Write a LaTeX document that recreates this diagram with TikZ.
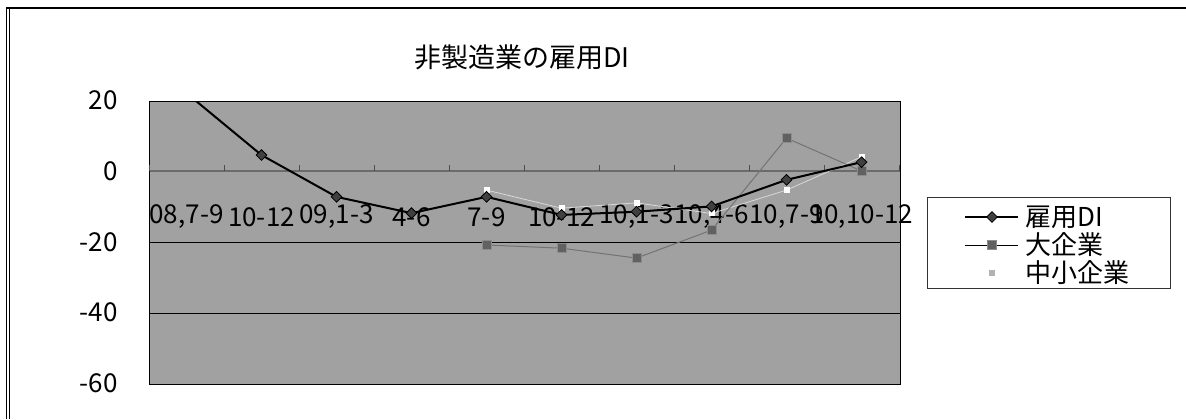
\documentclass[tikz,border=0pt]{standalone}
\usepackage{fontspec}
\setmainfont{Noto Sans CJK JP}
\usetikzlibrary{shapes.geometric}
\begin{document}
\begin{tikzpicture}[x=0.5pt,y=-0.5pt,
	lab/.style={font=\fontsize{13}{13}\selectfont, inner sep=0pt},
	emp/.style={black, line width=1pt},
	big/.style={black!55, line width=0.5pt},
	small/.style={white!85!black, line width=0.4pt},
	dia/.style={diamond, draw=black, fill=black!75, inner sep=0pt, minimum size=5.5pt},
	sq/.style={rectangle, draw=black!45, fill=black!62, inner sep=0pt, minimum size=4.5pt},
	wsq/.style={rectangle, fill=white, inner sep=0pt, minimum size=3pt}]
	\useasboundingbox (0,0) rectangle (1186,419);
	% frame
	\draw[line width=0.8pt] (6,8) -- (1186,8);
	\draw[line width=0.5pt] (6,8) -- (6,419);
	\draw[line width=0.4pt] (9,8) -- (9,419);
	% title
	\node[lab, font=\fontsize{13.5}{13.5}\selectfont] (title) at (522,57) {非製造業の雇用DI};
	% plot area
	\fill[black!37] (149,101) rectangle (900,384);
	\draw[line width=0.5pt] (149,242) -- (900,242);
	\draw[line width=0.5pt] (149,313) -- (900,313);
	\draw[black!58, line width=1.3pt] (149,171) -- (900,171);
	\draw[line width=0.5pt] (149,101) rectangle (900,384);
	\foreach \i in {0,...,10}
		\draw[black!70, line width=0.4pt] ({149+75*\i},165) -- ({149+75*\i},171);
	% y labels
	\foreach \v [count=\i] in {20,0,-20,-40,-60}
		\node[lab, anchor=east] (y\i) at (118,{171-3.54*\v}) {\v};
	% x labels
	\foreach \t [count=\i] in {08{,}7-9,10-12,09{,}1-3,4-6,7-9,10-12,10{,}1-3,10{,}4-6,10{,}7-9,10{,}10-12}
		\node[lab] (x\i) at ({111.5+75*\i},217) {\t};
	% series
	\foreach \v [count=\i] in {22,4.5,-7.3,-11.9,-7.3,-12.4,-11.5,-10,-2.5,2.5}
		\coordinate (e\i) at ({111.5+75*\i},{171-3.54*\v});
	\foreach \v [count=\i from 5] in {-20.9,-21.8,-24.6,-16.7,9.3,0}
		\coordinate (b\i) at ({111.5+75*\i},{171-3.54*\v});
	\foreach \v [count=\i from 5] in {-5.4,-10.5,-9,-12,-5.4,4}
		\coordinate (s\i) at ({111.5+75*\i},{171-3.54*\v});
	\begin{scope}
		\clip (149,101) rectangle (900,384);
		\draw[small] (s5) \foreach \i in {6,...,10} {-- (s\i)};
		\foreach \i in {5,...,10} \node[wsq] (ms\i) at (s\i) {};
		\draw[big] (b5) \foreach \i in {6,...,10} {-- (b\i)};
		\foreach \i in {5,...,10} \node[sq] (mb\i) at (b\i) {};
		\draw[emp] (e1) \foreach \i in {2,...,10} {-- (e\i)};
		\foreach \i in {2,...,10} \node[dia] (me\i) at (e\i) {};
	\end{scope}
	% legend
	\draw[black!80, line width=0.4pt] (927,197) rectangle (1170,288);
	\coordinate (l1) at (965,217);
	\coordinate (l2) at (965,245);
	\coordinate (l3) at (965,273);
	\draw[emp] (l1) -- ++(53,0);
	\node[dia] (ld1) at (992,217) {};
	\draw[big, black] (l2) -- ++(53,0);
	\node[sq] (ld2) at (992,245) {};
	\node[wsq, fill=black!30] (ld3) at (992,273) {};
	\node[lab, anchor=west] (n1) at (1025,217) {雇用DI};
	\node[lab, anchor=west] (n2) at (1025,245) {大企業};
	\node[lab, anchor=west] (n3) at (1025,273) {中小企業};
\end{tikzpicture}
\end{document}
